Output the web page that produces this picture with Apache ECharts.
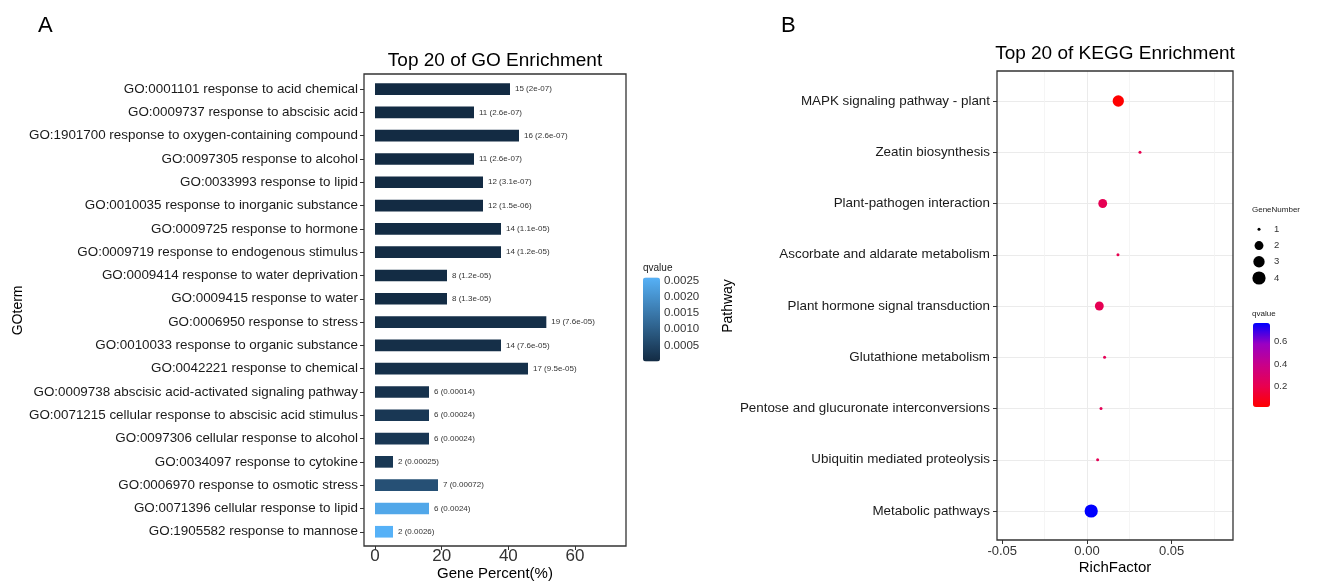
<!DOCTYPE html>
<html>
<head>
<meta charset="utf-8">
<title>GO and KEGG enrichment</title>
<script src="https://cdn.jsdelivr.net/npm/echarts@6/dist/echarts.min.js"></script>
<style>
  html, body { margin: 0; padding: 0; background: #fff; }
  #chart { width: 1326px; height: 581px; }
</style>
</head>
<body>
<div id="chart"></div>
<script>
// ---- Panel A: GO enrichment (top 20 terms) ----
const goTerms = [
  'GO:0001101 response to acid chemical',
  'GO:0009737 response to abscisic acid',
  'GO:1901700 response to oxygen-containing compound',
  'GO:0097305 response to alcohol',
  'GO:0033993 response to lipid',
  'GO:0010035 response to inorganic substance',
  'GO:0009725 response to hormone',
  'GO:0009719 response to endogenous stimulus',
  'GO:0009414 response to water deprivation',
  'GO:0009415 response to water',
  'GO:0006950 response to stress',
  'GO:0010033 response to organic substance',
  'GO:0042221 response to chemical',
  'GO:0009738 abscisic acid-activated signaling pathway',
  'GO:0071215 cellular response to abscisic acid stimulus',
  'GO:0097306 cellular response to alcohol',
  'GO:0034097 response to cytokine',
  'GO:0006970 response to osmotic stress',
  'GO:0071396 cellular response to lipid',
  'GO:1905582 response to mannose'
];
const goCounts = [15, 11, 16, 11, 12, 12, 14, 14, 8, 8, 19, 14, 17, 6, 6, 6, 2, 7, 6, 2];
const goPercent = [40.5, 29.7, 43.2, 29.7, 32.4, 32.4, 37.8, 37.8, 21.6, 21.6,
                   51.4, 37.8, 45.9, 16.2, 16.2, 16.2, 5.4, 18.9, 16.2, 5.4];
const goQvalue = [2e-7, 2.6e-7, 2.6e-7, 2.6e-7, 3.1e-7, 1.5e-6, 1.1e-5, 1.2e-5, 1.2e-5, 1.3e-5,
                  7.6e-5, 7.6e-5, 9.5e-5, 0.00014, 0.00024, 0.00024, 0.00025, 0.00072, 0.0024, 0.0026];
const goPercentTicks = [0, 20, 40, 60];
const goQTicks = [0.0005, 0.0010, 0.0015, 0.0020, 0.0025];

// ---- Panel B: KEGG enrichment ----
const pathways = [
  'MAPK signaling pathway - plant',
  'Zeatin biosynthesis',
  'Plant-pathogen interaction',
  'Ascorbate and aldarate metabolism',
  'Plant hormone signal transduction',
  'Glutathione metabolism',
  'Pentose and glucuronate interconversions',
  'Ubiquitin mediated proteolysis',
  'Metabolic pathways'
];
const richFactor = [0.0185, 0.0313, 0.0093, 0.0183, 0.0073, 0.0104, 0.0083, 0.0063, 0.0025];
const geneNumber = [3, 1, 2, 1, 2, 1, 1, 1, 4];
const keggQvalue = [0.01, 0.20, 0.21, 0.20, 0.21, 0.22, 0.22, 0.22, 0.77];
const richTicks = [-0.05, 0, 0.05];
const keggQTicks = [0.2, 0.4, 0.6];
const geneNumberLegend = [1, 2, 3, 4];

const FONT = "'Liberation Sans', Arial, Helvetica, sans-serif";
const TXT = '#1a1a1a';

// circle diameter for a gene count (area-style scaling, 1..4)
function dotSize(n) {
  return 3 + 10.2 * Math.sqrt((n - 1) / 3);
}
// R-like formatting of q-values: 2e-07, 2.6e-07, 0.00014
function fmtQ(q) {
  if (q < 1e-4) {
    const [m, e] = q.toExponential().split('e');
    const sign = e[0];
    const digits = e.slice(1).padStart(2, '0');
    return m + 'e' + sign + digits;
  }
  return String(q);
}

const goData = goTerms.map((t, i) => [goPercent[i], t, goCounts[i], goQvalue[i]]);
const keggData = pathways.map((p, i) => [richFactor[i], p, geneNumber[i], keggQvalue[i]]);
const sizeLegendData = geneNumberLegend.map(n => [0.5, String(n), n]);

const chart = echarts.init(document.getElementById('chart'), null, { renderer: 'canvas' });

const hidden = { show: false };
const noLine = { show: false, onZero: false };
const fixedGrid = { outerBoundsMode: 'none', containLabel: false };

const option = {
  animation: false,
  backgroundColor: '#fff',
  textStyle: { fontFamily: FONT },
  title: [
    { text: 'A', left: 38, top: 15, padding: 0, textStyle: { fontSize: 22, fontWeight: 'normal', color: '#000', fontFamily: FONT } },
    { text: 'B', left: 781, top: 15, padding: 0, textStyle: { fontSize: 22, fontWeight: 'normal', color: '#000', fontFamily: FONT } },
    { text: 'Top 20 of GO Enrichment', left: 495, top: 51, textAlign: 'center', padding: 0,
      textStyle: { fontSize: 19, fontWeight: 'normal', color: '#000', fontFamily: FONT } },
    { text: 'Top 20 of KEGG Enrichment', left: 1115, top: 44, textAlign: 'center', padding: 0,
      textStyle: { fontSize: 19, fontWeight: 'normal', color: '#000', fontFamily: FONT } },
    { text: 'qvalue', left: 643, top: 263, padding: 0, textStyle: { fontSize: 10, fontWeight: 'normal', color: TXT, fontFamily: FONT } },
    { text: 'GeneNumber', left: 1252, top: 206, padding: 0, textStyle: { fontSize: 8, fontWeight: 'normal', color: TXT, fontFamily: FONT } },
    { text: 'qvalue', left: 1252, top: 310, padding: 0, textStyle: { fontSize: 8, fontWeight: 'normal', color: TXT, fontFamily: FONT } }
  ],
  grid: [
    // 0: frame of panel A
    Object.assign({ left: 364, top: 74, width: 262, height: 472, show: true, z: 5, borderColor: '#333', borderWidth: 1.3, backgroundColor: 'transparent' }, fixedGrid),
    // 1: data area of panel A
    Object.assign({ left: 364, top: 77.4, width: 262, height: 466 }, fixedGrid),
    // 2: frame of panel B
    Object.assign({ left: 997, top: 71, width: 236, height: 469, show: true, z: 5, borderColor: '#333', borderWidth: 1.3, backgroundColor: 'transparent' }, fixedGrid),
    // 3: data area of panel B
    Object.assign({ left: 997, top: 101, width: 236, height: 410 }, fixedGrid),
    // 4: colour bar scale, panel A
    Object.assign({ left: 643, top: 277.5, width: 17, height: 84 }, fixedGrid),
    // 5: colour bar scale, panel B
    Object.assign({ left: 1253, top: 323, width: 17, height: 84 }, fixedGrid),
    // 6: gene number size key
    Object.assign({ left: 1253, top: 229.3, width: 12, height: 48.7 }, fixedGrid)
  ],
  xAxis: [
    { gridIndex: 0, type: 'value', min: -3.3, max: 75.3,
      axisLine: noLine, splitLine: hidden,
      axisTick: { show: true, length: 4, customValues: goPercentTicks, lineStyle: { color: '#333' } },
      axisLabel: { customValues: goPercentTicks, fontSize: 17, color: '#333', margin: 2, fontFamily: FONT },
      name: 'Gene Percent(%)', nameLocation: 'middle', nameGap: 20, nameMoveOverlap: false,
      nameTextStyle: { fontSize: 15, color: '#000', fontFamily: FONT } },
    { gridIndex: 1, type: 'value', min: -3.3, max: 75.3, show: false },
    { gridIndex: 2, type: 'value', min: -0.0531, max: 0.0862, splitNumber: 3,
      axisLine: noLine,
      axisTick: { show: true, length: 4, customValues: richTicks, lineStyle: { color: '#333' } },
      axisLabel: { customValues: richTicks, fontSize: 13, color: '#333', margin: 5, fontFamily: FONT,
                   formatter: v => v.toFixed(2) },
      splitLine: { show: true, showMinLine: false, showMaxLine: false, lineStyle: { color: '#EBEBEB', width: 1 } },
      minorTick: { show: false, splitNumber: 2 },
      minorSplitLine: { show: true, lineStyle: { color: '#F2F2F2', width: 0.8 } },
      name: 'RichFactor', nameLocation: 'middle', nameGap: 20, nameMoveOverlap: false,
      nameTextStyle: { fontSize: 15, color: '#000', fontFamily: FONT } },
    { gridIndex: 3, type: 'value', min: -0.0531, max: 0.0862, show: false },
    { gridIndex: 4, type: 'value', min: 0, max: 1, show: false },
    { gridIndex: 5, type: 'value', min: 0, max: 1, show: false },
    { gridIndex: 6, type: 'value', min: 0, max: 1, show: false }
  ],
  yAxis: [
    { gridIndex: 0, type: 'value', min: 0, max: 1, show: false },
    { gridIndex: 1, type: 'category', data: goTerms, inverse: true,
      axisLine: noLine, splitLine: hidden,
      axisTick: { show: true, length: 4, alignWithLabel: true, lineStyle: { color: '#333' } },
      axisLabel: { fontSize: 13.4, color: TXT, margin: 6, fontFamily: FONT, interval: 0 },
      name: 'GOterm', nameLocation: 'middle', nameGap: 339, nameRotate: 90, nameMoveOverlap: false,
      nameTextStyle: { fontSize: 14, color: '#000', fontFamily: FONT } },
    { gridIndex: 2, type: 'value', min: 0, max: 1, show: false },
    { gridIndex: 3, type: 'category', data: pathways, inverse: true, boundaryGap: false,
      axisLine: noLine,
      axisTick: { show: true, length: 4, lineStyle: { color: '#333' } },
      splitLine: { show: true, lineStyle: { color: '#EBEBEB', width: 1 } },
      axisLabel: { fontSize: 13.4, color: TXT, margin: 7, fontFamily: FONT, interval: 0 },
      name: 'Pathway', nameLocation: 'middle', nameGap: 262, nameRotate: 90, nameMoveOverlap: false,
      nameTextStyle: { fontSize: 14, color: '#000', fontFamily: FONT } },
    { gridIndex: 4, type: 'value', min: 0, max: 0.0026, position: 'right',
      axisLine: noLine, splitLine: hidden,
      axisTick: { show: true, inside: true, length: 3, customValues: goQTicks, lineStyle: { color: 'rgba(255,255,255,0.6)' } },
      axisLabel: { customValues: goQTicks, fontSize: 11.5, color: '#333', margin: 4, fontFamily: FONT,
                   formatter: v => v.toFixed(4) } },
    { gridIndex: 5, type: 'value', min: 0.01, max: 0.77, position: 'right',
      axisLine: noLine, splitLine: hidden,
      axisTick: { show: true, inside: true, length: 3, customValues: keggQTicks, lineStyle: { color: 'rgba(255,255,255,0.6)' } },
      axisLabel: { customValues: keggQTicks, fontSize: 9.5, color: '#333', margin: 4, fontFamily: FONT,
                   formatter: v => v.toFixed(1) } },
    { gridIndex: 6, type: 'category', data: geneNumberLegend.map(String), inverse: true, boundaryGap: false,
      position: 'right', axisLine: noLine, axisTick: hidden, splitLine: hidden,
      axisLabel: { fontSize: 9.5, color: '#333', margin: 9, fontFamily: FONT, interval: 0 } }
  ],
  visualMap: [
    { type: 'continuous', seriesIndex: 0, dimension: 3, min: 0, max: 0.0026,
      inRange: { color: ['#132B43', '#56B1F7'] },
      show: true, calculable: false, hoverLink: false, padding: 0,
      left: 643, top: 277.5, itemWidth: 17, itemHeight: 84, text: null },
    { type: 'continuous', seriesIndex: 1, dimension: 3, min: 0.01, max: 0.77,
      inRange: { color: ['#FF0000', '#E80050', '#C90089', '#9A00C3', '#0000FF'] },
      show: true, calculable: false, hoverLink: false, padding: 0,
      left: 1253, top: 323, itemWidth: 17, itemHeight: 84, text: null }
  ],
  series: [
    { type: 'bar', xAxisIndex: 1, yAxisIndex: 1, data: goData, encode: { x: 0, y: 1 },
      barWidth: '50%',
      label: { show: true, position: 'right', distance: 5, fontSize: 8, color: '#333', fontFamily: FONT,
               formatter: p => p.data[2] + ' (' + fmtQ(p.data[3]) + ')' } },
    { type: 'scatter', xAxisIndex: 3, yAxisIndex: 3, data: keggData, encode: { x: 0, y: 1 },
      symbolSize: v => dotSize(v[2]), itemStyle: { opacity: 1 }, z: 3 },
    { type: 'scatter', xAxisIndex: 6, yAxisIndex: 6, data: sizeLegendData, encode: { x: 0, y: 1 },
      symbolSize: v => dotSize(v[2]), itemStyle: { color: '#000', opacity: 1 } }
  ]
};

chart.setOption(option);
</script>
</body>
</html>
